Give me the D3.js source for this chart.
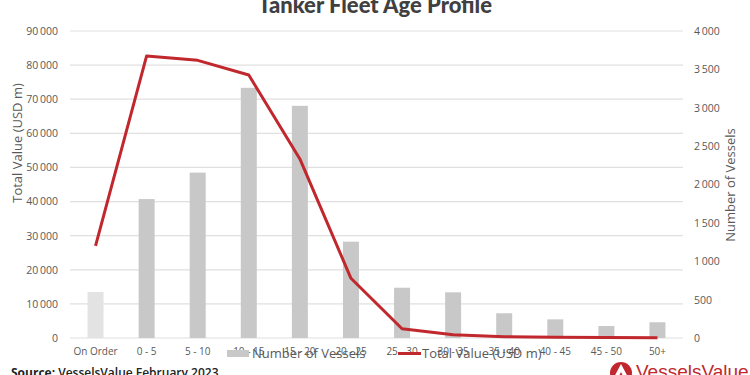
<!DOCTYPE html>
<html>
<head>
<meta charset="utf-8">
<script src="https://cdn.jsdelivr.net/npm/d3@7"></script>
<style>
  html, body { margin: 0; padding: 0; background: #fff; }
  svg { display: block; font-family: "Open Sans", "Noto Sans", sans-serif; }
</style>
</head>
<body>
<svg id="chart" width="750" height="375"></svg>
<script>
const categories = ["On Order","0 - 5","5 - 10","10 - 15","15 - 20","20 - 25","25 - 30","30 - 35","35 - 40","40 - 45","45 - 50","50+"];
const vessels = [600, 1810, 2155, 3260, 3025, 1255, 655, 595, 322, 243, 156, 205];
const totalValue = [27000, 82700, 81400, 77100, 52500, 17500, 2700, 970, 400, 250, 150, 100];
const leftTicks = [0,10000,20000,30000,40000,50000,60000,70000,80000,90000];
const rightTicks = [0,500,1000,1500,2000,2500,3000,3500,4000];

const svg = d3.select("#chart");
const plot = {left: 70, right: 683, top: 31, bottom: 338};

const x = d3.scaleBand().domain(categories).range([plot.left, plot.right]).paddingInner(0.687).paddingOuter(0.3435);
const yL = d3.scaleLinear().domain([0, 90000]).range([plot.bottom, plot.top]);
const yR = d3.scaleLinear().domain([0, 4000]).range([plot.bottom, plot.top]);
const fmt = v => d3.format(",")(v).replace(/,/g, "\u2009");

// gridlines
svg.append("g").selectAll("line").data(leftTicks).join("line")
  .attr("x1", plot.left).attr("x2", plot.right)
  .attr("y1", d => yL(d)).attr("y2", d => yL(d))
  .attr("stroke", "#e0e0e0").attr("stroke-width", 1.2);

// left axis
const axL = svg.append("g").attr("transform", `translate(${plot.left - 12},0)`)
  .call(d3.axisLeft(yL).tickValues(leftTicks).tickFormat(fmt).tickSize(0).tickPadding(0));
axL.select(".domain").remove();
axL.selectAll("text").attr("font-size", 10.5).attr("fill", "#595959").attr("font-family", "Open Sans, sans-serif");

// right axis
const axR = svg.append("g").attr("transform", `translate(${plot.right + 11},0)`)
  .call(d3.axisRight(yR).tickValues(rightTicks).tickFormat(fmt).tickSize(0).tickPadding(0));
axR.select(".domain").remove();
axR.selectAll("text").attr("font-size", 10.5).attr("fill", "#595959").attr("font-family", "Open Sans, sans-serif");

// x axis labels
const axB = svg.append("g").attr("transform", `translate(0,${plot.bottom + 8})`)
  .call(d3.axisBottom(x).tickSize(0).tickPadding(0));
axB.select(".domain").remove();
axB.selectAll("text").attr("font-size", 10).attr("fill", "#595959").attr("dy", "0.9em").attr("font-family", "Open Sans, sans-serif");

// bars
svg.append("g").selectAll("rect").data(categories).join("rect")
  .attr("x", d => x(d))
  .attr("width", x.bandwidth())
  .attr("y", (d, i) => yR(vessels[i]))
  .attr("height", (d, i) => yR(0) - yR(vessels[i]))
  .attr("fill", (d, i) => i === 0 ? "#e3e3e3" : "#c8c8c8");

// line
const line = d3.line().x((d, i) => x(categories[i]) + x.bandwidth() / 2).y(d => yL(d));
svg.append("path").datum(totalValue)
  .attr("d", line).attr("fill", "none")
  .attr("stroke", "#c0282d").attr("stroke-width", 3).attr("stroke-linejoin", "round");

// axis titles
svg.append("text").attr("transform", "translate(22,143) rotate(-90)")
  .attr("text-anchor", "middle").attr("font-size", 13).attr("fill", "#595959")
  .text("Total Value (USD m)");
svg.append("text").attr("transform", "translate(735,185) rotate(-90)")
  .attr("text-anchor", "middle").attr("font-size", 13).attr("fill", "#595959")
  .text("Number of Vessels");

// title
svg.append("text").attr("x", 375).attr("y", 13).attr("text-anchor", "middle")
  .attr("font-size", 22).attr("font-weight", 900).attr("fill", "#404040")
  .attr("font-family", "Lato, sans-serif")
  .text("Tanker Fleet Age Profile");

// legend
const lg = svg.append("g");
lg.append("rect").attr("x", 227).attr("y", 350).attr("width", 22).attr("height", 7).attr("fill", "#c8c8c8");
lg.append("text").attr("x", 252).attr("y", 358).attr("font-size", 13).attr("fill", "#595959").text("Number of Vessels");
lg.append("line").attr("x1", 398).attr("x2", 421).attr("y1", 353.5).attr("y2", 353.5).attr("stroke", "#c0282d").attr("stroke-width", 3);
lg.append("text").attr("x", 422).attr("y", 358).attr("font-size", 13).attr("fill", "#595959").text("Total Value (USD m)");

// source
const src = svg.append("text").attr("x", 11).attr("y", 377).attr("font-size", 12).attr("fill", "#222").attr("font-weight", "bold");
src.append("tspan").text("Source: ");
src.append("tspan").attr("font-weight", 600).text("VesselsValue February 2023");

// logo
const logo = svg.append("g");
logo.append("circle").attr("cx", 621).attr("cy", 373).attr("r", 11).attr("fill", "#c0282d");
logo.append("path").attr("d", "M621,364 L613,379 L617.5,379 L621,372 L624.5,379 L629,379 Z").attr("fill", "#fff");
logo.append("text").attr("x", 636).attr("y", 378).attr("font-size", 19).attr("fill", "#c0282d")
  .attr("font-family", "Liberation Sans, sans-serif").text("VesselsValue");
</script>
</body>
</html>
